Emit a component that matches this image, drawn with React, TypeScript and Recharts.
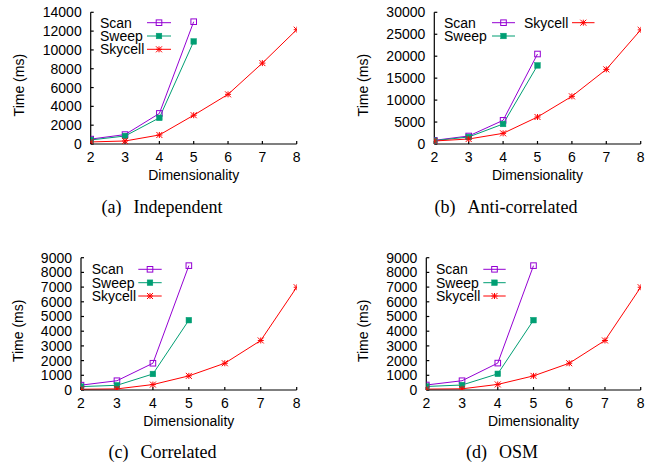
import React from 'react';
import { LineChart, Line, XAxis, YAxis } from 'recharts';

const dims = [2, 3, 4, 5, 6, 7, 8];
const dimTicks = [2, 3, 4, 5, 6, 7, 8];

const indepScan = [520, 1000, 3250, 13000];
const indepSweep = [430, 850, 2780, 10900];
const indepSkycell = [220, 320, 960, 3060, 5280, 8600, 12150];

const antiScan = [830, 1820, 5390, 20500];
const antiSweep = [760, 1600, 4560, 17900];
const antiSkycell = [680, 1140, 2430, 6150, 10860, 17000, 26000];

const corrScan = [330, 630, 1820, 8460];
const corrSweep = [230, 320, 1090, 4750];
const corrSkycell = [50, 75, 370, 960, 1820, 3370, 6990];

const osmScan = [340, 630, 1830, 8460];
const osmSweep = [240, 340, 1100, 4750];
const osmSkycell = [60, 80, 380, 960, 1820, 3370, 6990];

const indepTicks = [0, 2000, 4000, 6000, 8000, 10000, 12000, 14000];
const antiTicks = [0, 5000, 10000, 15000, 20000, 25000, 30000];
const corrTicks = [0, 1000, 2000, 3000, 4000, 5000, 6000, 7000, 8000, 9000];

const seriesNames = ['Scan', 'Sweep', 'Skycell'];
const captions = ['(a)', 'Independent', '(b)', 'Anti-correlated', '(c)', 'Correlated', '(d)', 'OSM'];

const PURPLE = '#9400d3';
const GREEN = '#009e73';
const RED = '#ff0000';
const SANS = '"Liberation Sans", Arial, Helvetica, sans-serif';
const SERIF = '"Liberation Serif", "Times New Roman", serif';

type Row = { dim: number; scan?: number; sweep?: number; skycell?: number };

function buildRows(scan: number[], sweep: number[], skycell: number[]): Row[] {
  return dims.map((d, i) => ({ dim: d, scan: scan[i], sweep: sweep[i], skycell: skycell[i] }));
}

const H = 2.8;

function OpenSquare(props: any) {
  const { cx, cy, index } = props;
  if (cx == null || cy == null || isNaN(cy)) return <g key={'os' + index} />;
  return <rect key={'os' + index} x={cx - H} y={cy - H} width={2 * H} height={2 * H} fill="none" stroke={PURPLE} strokeWidth={1} />;
}
function FilledSquare(props: any) {
  const { cx, cy, index } = props;
  if (cx == null || cy == null || isNaN(cy)) return <g key={'fs' + index} />;
  return <rect key={'fs' + index} x={cx - H} y={cy - H} width={2 * H} height={2 * H} fill={GREEN} stroke={GREEN} strokeWidth={0.5} />;
}
function Star(props: any) {
  const { cx, cy, index } = props;
  if (cx == null || cy == null || isNaN(cy)) return <g key={'st' + index} />;
  const r = 3;
  return (
    <g key={'st' + index} stroke={RED} strokeWidth={1}>
      <line x1={cx - r} y1={cy} x2={cx + r} y2={cy} />
      <line x1={cx} y1={cy - r} x2={cx} y2={cy + r} />
      <line x1={cx - r} y1={cy - r} x2={cx + r} y2={cy + r} />
      <line x1={cx - r} y1={cy + r} x2={cx + r} y2={cy - r} />
    </g>
  );
}

function markerFor(i: number, cx: number, cy: number) {
  if (i === 0) return <OpenSquare cx={cx} cy={cy} index={0} />;
  if (i === 1) return <FilledSquare cx={cx} cy={cy} index={0} />;
  return <Star cx={cx} cy={cy} index={0} />;
}
const colors = [PURPLE, GREEN, RED];

type LegendEntry = { tx: number; ty: number; x1: number; x2: number; mx: number };

function LegendOverlay({ entries }: { entries: LegendEntry[] }) {
  return (
    <svg width={657} height={466} style={{ position: 'absolute', left: 0, top: 0, pointerEvents: 'none' }}>
      {entries.map((e, i) => (
        <g key={i}>
          <text x={e.tx} y={e.ty} dominantBaseline="central" fontFamily={SANS} fontSize={14} fill="#000">
            {seriesNames[i]}
          </text>
          <line x1={e.x1} y1={e.ty} x2={e.x2} y2={e.ty} stroke={colors[i]} strokeWidth={1} />
          {markerFor(i, e.mx, e.ty)}
        </g>
      ))}
    </svg>
  );
}

type PanelProps = {
  left: number;
  top: number;
  width: number;
  height: number;
  yAxisWidth: number;
  margin: { top: number; right: number; bottom: number; left: number };
  yMax: number;
  yTicks: number[];
  rows: Row[];
  yLabelX: number;
};

function Panel(p: PanelProps) {
  const xTitle = (props: any) => {
    const vb = props.viewBox;
    return (
      <text x={vb.x + vb.width / 2} y={vb.y + 30.5} textAnchor="middle" dominantBaseline="central" fontFamily={SANS} fontSize={14} fill="#000">
        Dimensionality
      </text>
    );
  };
  const yTitle = (props: any) => {
    const vb = props.viewBox;
    const x = vb.x + p.yLabelX;
    const y = vb.y + vb.height / 2 + 7;
    return (
      <text x={x} y={y} transform={`rotate(-90 ${x} ${y})`} textAnchor="middle" dominantBaseline="central" fontFamily={SANS} fontSize={14} fill="#000">
        Time (ms)
      </text>
    );
  };
  return (
    <div style={{ position: 'absolute', left: p.left, top: p.top }}>
      <LineChart width={p.width} height={p.height} data={p.rows} margin={p.margin}>
        <XAxis
          dataKey="dim"
          type="number"
          domain={[2, 8]}
          ticks={dimTicks}
          allowDataOverflow
          height={40}
          stroke="#000"
          strokeWidth={1.2}
          tickSize={-3}
          tickMargin={11}
          tick={{ fill: '#000', fontSize: 14, fontFamily: SANS }}
          label={xTitle}
        />
        <YAxis
          type="number"
          domain={[0, p.yMax]}
          ticks={p.yTicks}
          allowDataOverflow
          width={p.yAxisWidth}
          stroke="#000"
          strokeWidth={1.2}
          tickSize={-3}
          tickMargin={12}
          interval={0}
          tick={{ fill: '#000', fontSize: 14, fontFamily: SANS }}
          label={yTitle}
        />
        <Line dataKey="scan" stroke={PURPLE} strokeWidth={1} dot={(d: any) => <OpenSquare {...d} key={'a' + d.index} />} isAnimationActive={false} />
        <Line dataKey="sweep" stroke={GREEN} strokeWidth={1} dot={(d: any) => <FilledSquare {...d} key={'b' + d.index} />} isAnimationActive={false} />
        <Line dataKey="skycell" stroke={RED} strokeWidth={1} dot={(d: any) => <Star {...d} key={'c' + d.index} />} isAnimationActive={false} />
      </LineChart>
    </div>
  );
}

function Caption({ cx, cy, tag, text }: { cx: number; cy: number; tag: string; text: string }) {
  return (
    <div
      style={{
        position: 'absolute',
        left: cx - 150,
        top: cy - 12,
        width: 300,
        height: 24,
        lineHeight: '24px',
        textAlign: 'center',
        fontFamily: SERIF,
        fontSize: 18,
        color: '#000',
        whiteSpace: 'nowrap',
      }}
    >
      <span style={{ marginRight: 12 }}>{tag}</span>
      {text}
    </div>
  );
}

export default function App() {
  const indepRows = buildRows(indepScan, indepSweep, indepSkycell);
  const antiRows = buildRows(antiScan, antiSweep, antiSkycell);
  const corrRows = buildRows(corrScan, corrSweep, corrSkycell);
  const osmRows = buildRows(osmScan, osmSweep, osmSkycell);

  const legendA: LegendEntry[] = [
    { tx: 100, ty: 22.7, x1: 147, x2: 171, mx: 159 },
    { tx: 100, ty: 36, x1: 147, x2: 171, mx: 159 },
    { tx: 100, ty: 49.3, x1: 147, x2: 171, mx: 159 },
  ];
  const legendB: LegendEntry[] = [
    { tx: 444, ty: 22.7, x1: 492, x2: 515, mx: 503.5 },
    { tx: 444, ty: 36, x1: 492, x2: 515, mx: 503.5 },
    { tx: 524, ty: 22.7, x1: 572, x2: 594.5, mx: 583.3 },
  ];
  const legendC: LegendEntry[] = [
    { tx: 91.7, ty: 269.3, x1: 138.3, x2: 161.7, mx: 150 },
    { tx: 91.7, ty: 282.7, x1: 138.3, x2: 161.7, mx: 150 },
    { tx: 91.7, ty: 296, x1: 138.3, x2: 161.7, mx: 150 },
  ];
  const legendD: LegendEntry[] = [
    { tx: 436, ty: 269.3, x1: 483.3, x2: 505.7, mx: 494.5 },
    { tx: 436, ty: 282.7, x1: 483.3, x2: 505.7, mx: 494.5 },
    { tx: 436, ty: 296, x1: 483.3, x2: 505.7, mx: 494.5 },
  ];

  return (
    <div style={{ position: 'absolute', left: 0, top: 0, width: 657, height: 466, background: '#fff', overflow: 'hidden' }}>
      <Panel left={0} top={0} width={328} height={190} yAxisWidth={90.7} margin={{ top: 12.3, right: 31.3, bottom: 6, left: 0 }} yMax={14000} yTicks={indepTicks} rows={indepRows} yLabelX={19} />
      <Panel left={330} top={0} width={327} height={190} yAxisWidth={104.3} margin={{ top: 12.3, right: 16.3, bottom: 6, left: 0 }} yMax={30000} yTicks={antiTicks} rows={antiRows} yLabelX={33} />
      <Panel left={0} top={240} width={328} height={190} yAxisWidth={81} margin={{ top: 17.7, right: 31.3, bottom: 0, left: 0 }} yMax={9000} yTicks={corrTicks} rows={corrRows} yLabelX={18.3} />
      <Panel left={330} top={240} width={327} height={190} yAxisWidth={96.3} margin={{ top: 17.7, right: 16.3, bottom: 0, left: 0 }} yMax={9000} yTicks={corrTicks} rows={osmRows} yLabelX={33} />
      <LegendOverlay entries={legendA} />
      <LegendOverlay entries={legendB} />
      <LegendOverlay entries={legendC} />
      <LegendOverlay entries={legendD} />
      <Caption cx={162} cy={207} tag={captions[0]} text={captions[1]} />
      <Caption cx={506} cy={207} tag={captions[2]} text={captions[3]} />
      <Caption cx={162.5} cy={452} tag={captions[4]} text={captions[5]} />
      <Caption cx={502} cy={452} tag={captions[6]} text={captions[7]} />
    </div>
  );
}
